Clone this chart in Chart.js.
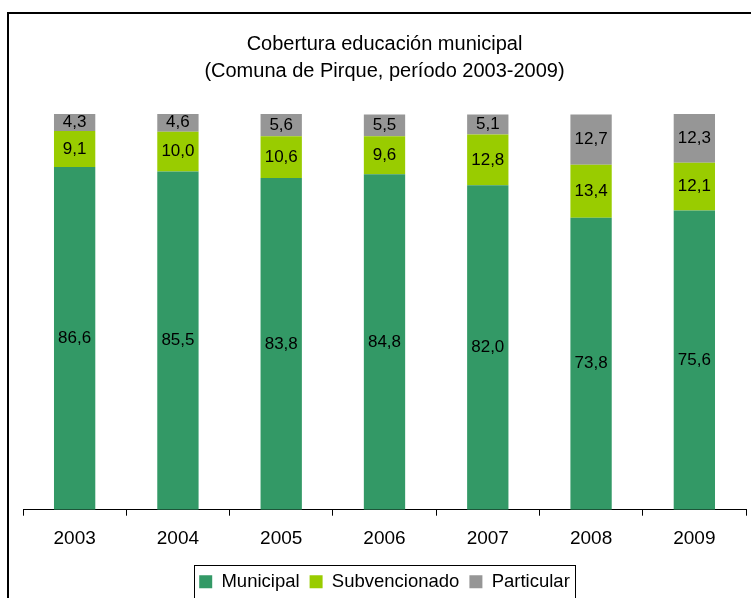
<!DOCTYPE html>
<html>
<head>
<meta charset="utf-8">
<script src="https://cdn.jsdelivr.net/npm/chart.js"></script>
<style>
  html, body { margin: 0; padding: 0; background: #ffffff; }
  #wrap { width: 751px; height: 598px; }
</style>
</head>
<body>
<div id="wrap"><canvas id="chart"></canvas></div>
<script>
// Datos del gráfico (porcentajes por año)
const years = ['2003', '2004', '2005', '2006', '2007', '2008', '2009'];
const municipal = [86.6, 85.5, 83.8, 84.8, 82.0, 73.8, 75.6];
const subvencionado = [9.1, 10.0, 10.6, 9.6, 12.8, 13.4, 12.1];
const particular = [4.3, 4.6, 5.6, 5.5, 5.1, 12.7, 12.3];
const titleLines = ['Cobertura educación municipal', '(Comuna de Pirque, período 2003-2009)'];

const FONT = 'Arial, "Liberation Sans", sans-serif';

// Marco exterior del gráfico (solo se ven el borde izquierdo y el superior)
const framePlugin = {
    id: 'frame',
    beforeDraw(chart) {
        const ctx = chart.ctx;
        ctx.save();
        ctx.strokeStyle = '#000000';
        ctx.lineWidth = 2;
        ctx.strokeRect(8, 13, 900, 800);
        ctx.restore();
    }
};

// Etiquetas con el valor en el centro de cada segmento
const valueLabels = {
    id: 'valueLabels',
    afterDatasetsDraw(chart) {
        const ctx = chart.ctx;
        ctx.save();
        ctx.font = '17px ' + FONT;
        ctx.fillStyle = '#000000';
        ctx.textAlign = 'center';
        ctx.textBaseline = 'middle';
        chart.data.datasets.forEach((ds, i) => {
            const meta = chart.getDatasetMeta(i);
            meta.data.forEach((bar, j) => {
                const txt = ds.data[j].toFixed(1).replace('.', ',');
                ctx.fillText(txt, bar.x, (bar.y + bar.base) / 2);
            });
        });
        ctx.restore();
    }
};

// Recuadro alrededor de la leyenda
const legendBox = {
    id: 'legendBox',
    afterDraw(chart) {
        const boxes = chart.legend.legendHitBoxes;
        if (!boxes || !boxes.length) return;
        const left = Math.min(...boxes.map(b => b.left)) - 5;
        const right = Math.max(...boxes.map(b => b.left + b.width)) + 5;
        const top = Math.min(...boxes.map(b => b.top)) - 8;
        const ctx = chart.ctx;
        ctx.save();
        ctx.strokeStyle = '#000000';
        ctx.lineWidth = 1;
        ctx.strokeRect(Math.round(left) + 0.5, Math.round(top) + 0.5, Math.round(right - left), 100);
        ctx.restore();
    }
};

new Chart(document.getElementById('chart'), {
    type: 'bar',
    data: {
        labels: years,
        datasets: [
            { label: 'Municipal', data: municipal, backgroundColor: '#339966' },
            { label: 'Subvencionado', data: subvencionado, backgroundColor: '#99CC00' },
            { label: 'Particular', data: particular, backgroundColor: '#969696' }
        ]
    },
    options: {
        responsive: true,
        maintainAspectRatio: false,
        animation: false,
        layout: { padding: { left: 23, right: 5, top: 1, bottom: -3 } },
        datasets: {
            bar: { categoryPercentage: 1, barPercentage: 0.4 }
        },
        scales: {
            x: {
                stacked: true,
                border: { display: true, color: '#000000', width: 1 },
                grid: { display: true, drawOnChartArea: false, color: '#000000', tickLength: 6, offset: true },
                ticks: { color: '#000000', font: { family: FONT, size: 19 }, padding: 12 }
            },
            y: {
                stacked: true,
                display: false,
                min: 0,
                max: 100
            }
        },
        plugins: {
            title: {
                display: true,
                text: titleLines,
                color: '#000000',
                font: { family: FONT, size: 20, weight: 'normal', lineHeight: 1.35 },
                padding: { top: 30, bottom: 29 }
            },
            legend: {
                display: true,
                position: 'bottom',
                labels: {
                    color: '#000000',
                    font: { family: FONT, size: 18.5 },
                    boxWidth: 13,
                    boxHeight: 13,
                    padding: 10
                }
            },
            tooltip: { enabled: false }
        }
    },
    plugins: [framePlugin, valueLabels, legendBox]
});
</script>
</body>
</html>
